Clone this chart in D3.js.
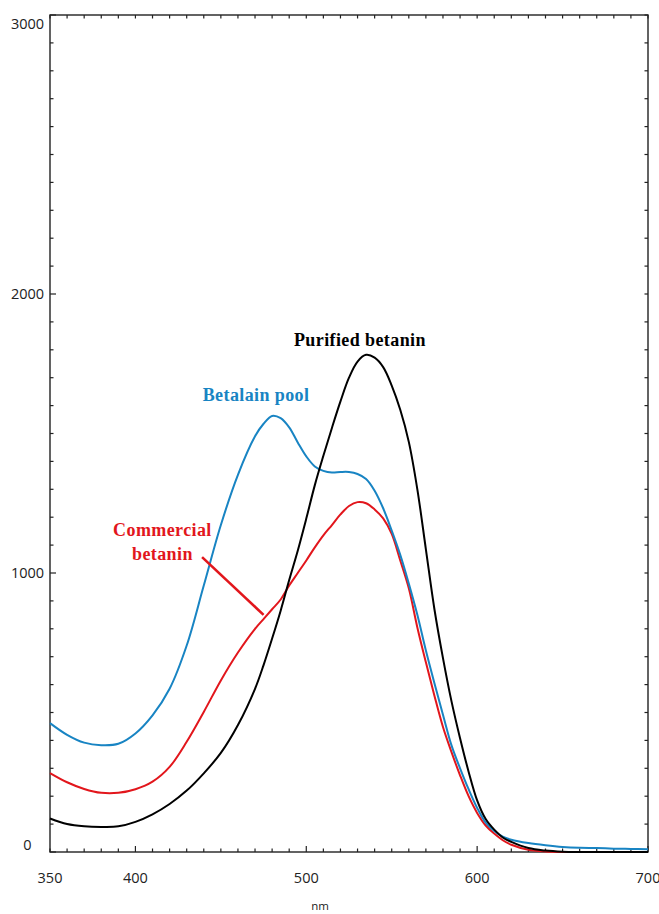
<!DOCTYPE html>
<html>
<head>
<meta charset="utf-8">
<script src="https://cdn.jsdelivr.net/npm/d3@7/dist/d3.min.js"></script>
<style>
  html, body { margin: 0; padding: 0; background: #fff; }
  svg { display: block; }
</style>
</head>
<body>
<svg id="chart" width="659" height="914"></svg>
<script>
// Absorbance-like spectra (arbitrary units) against wavelength in nm
const wavelengths = [350, 360, 370, 380, 390, 400, 410, 420, 430, 440, 450, 460, 470, 475, 480, 485, 490, 495, 500, 505, 510, 515, 520, 525, 530, 535, 540, 545, 550, 555, 560, 565, 570, 575, 580, 585, 590, 595, 600, 605, 610, 615, 620, 630, 640, 650, 660, 670, 680, 690, 700];

const purifiedBetanin = [120, 100, 92, 90, 92, 108, 135, 172, 220, 282, 355, 455, 585, 670, 765, 865, 975, 1080, 1195, 1315, 1420, 1520, 1615, 1700, 1758, 1782, 1772, 1738, 1672, 1585, 1470, 1300, 1085, 870, 695, 540, 408, 288, 185, 118, 80, 52, 36, 14, 5, 1, 0, 0, 0, 0, 0];

const betalainPool = [462, 420, 392, 383, 388, 425, 490, 585, 740, 955, 1172, 1352, 1490, 1535, 1563, 1555, 1522, 1468, 1418, 1382, 1366, 1360, 1362, 1362, 1355, 1337, 1295, 1232, 1152, 1065, 962, 850, 722, 605, 492, 382, 300, 225, 158, 105, 75, 55, 44, 32, 24, 18, 15, 14, 12, 11, 10];

const commercialBetanin = [283, 250, 226, 212, 212, 225, 252, 305, 395, 502, 615, 715, 800, 835, 870, 905, 955, 1000, 1045, 1092, 1135, 1172, 1210, 1240, 1254, 1250, 1228, 1196, 1140, 1045, 945, 805, 680, 560, 448, 358, 275, 200, 140, 95, 66, 42, 26, 8, 2, 0, 0, 0, 0, 0, 0];

const xTickLabels = [350, 400, 500, 600, 700];
const yTickLabels = [0, 1000, 2000, 3000];
const seriesNames = ["Purified betanin", "Betalain pool", "Commercial betanin"];
const seriesColors = ["#000000", "#1884c3", "#e2161c"];

const svg = d3.select("#chart");
const frame = { left: 50, right: 648, top: 15, bottom: 852 };

const x = d3.scaleLinear().domain([350, 700]).range([frame.left, frame.right]);
const y = d3.scaleLinear().domain([0, 3000]).range([frame.bottom, frame.top]);

// Frame ticks: every 10 nm along x, every 100 units along y
const minorX = d3.range(350, 701, 10);
const minorY = d3.range(0, 3001, 100);
const tickStroke = "#222";

const axes = svg.append("g").attr("stroke", tickStroke).attr("stroke-width", 1.2);
// bottom ticks (pointing up), longer at each 100 nm
axes.selectAll(".bt").data(minorX).join("line")
  .attr("x1", d => x(d)).attr("x2", d => x(d))
  .attr("y1", frame.bottom).attr("y2", d => frame.bottom - (d % 100 === 0 ? 6 : 3.5));
// top ticks (pointing down)
axes.selectAll(".tt").data(minorX).join("line")
  .attr("x1", d => x(d)).attr("x2", d => x(d))
  .attr("y1", frame.top).attr("y2", frame.top + 3.5);
// left ticks (pointing right), longer at each 1000
axes.selectAll(".lt").data(minorY).join("line")
  .attr("x1", frame.left).attr("x2", d => frame.left + (d % 1000 === 0 ? 6 : 3.5))
  .attr("y1", d => y(d)).attr("y2", d => y(d));
// right ticks (pointing left)
axes.selectAll(".rt").data(minorY).join("line")
  .attr("x1", frame.right).attr("x2", frame.right - 3.5)
  .attr("y1", d => y(d)).attr("y2", d => y(d));

// plot frame
svg.append("rect")
  .attr("x", frame.left).attr("y", frame.top)
  .attr("width", frame.right - frame.left).attr("height", frame.bottom - frame.top)
  .attr("fill", "none").attr("stroke", "#222").attr("stroke-width", 1.4);

// tick labels
const labelFont = "'Open Sans', 'Noto Sans', sans-serif";
svg.append("g").selectAll("text").data(xTickLabels).join("text")
  .attr("x", d => x(d)).attr("y", 883)
  .attr("text-anchor", "middle")
  .attr("font-family", labelFont).attr("font-size", 14.5).attr("fill", "#222")
  .text(d => d);

svg.append("g").selectAll("text").data(yTickLabels).join("text")
  .attr("x", 27.5)
  // keep the end labels inside the frame's vertical extent
  .attr("y", d => Math.min(Math.max(y(d), frame.top + 9), frame.bottom - 7) + 5)
  .attr("text-anchor", "middle")
  .attr("font-family", labelFont).attr("font-size", 14.5).attr("fill", "#222")
  .text(d => d);

svg.append("text")
  .attr("x", 320).attr("y", 910)
  .attr("text-anchor", "middle")
  .attr("font-family", labelFont).attr("font-size", 11.5).attr("fill", "#222")
  .text("nm");

// spectra
const seriesValues = [purifiedBetanin, betalainPool, commercialBetanin];
const line = d3.line()
  .x(d => x(d[0]))
  .y(d => y(d[1]))
  .curve(d3.curveCatmullRom.alpha(0.5));

const plot = svg.append("g");
// draw in order: commercial, pool, purified on top
[2, 1, 0].forEach(i => {
  plot.append("path")
    .datum(wavelengths.map((w, k) => [w, seriesValues[i][k]]))
    .attr("fill", "none")
    .attr("stroke", seriesColors[i])
    .attr("stroke-width", 2)
    .attr("stroke-linejoin", "round")
    .attr("d", line);
});

// series annotations (wavelength / value coordinates)
const serif = "'Liberation Serif', 'Times New Roman', serif";
const notes = [
  { text: "Purified betanin", nm: 531.4, v: 1815, color: seriesColors[0] },
  { text: "Betalain pool", nm: 470.6, v: 1615, color: seriesColors[1] },
  { text: "Commercial", nm: 415.8, v: 1133, color: seriesColors[2] },
  { text: "betanin", nm: 415.8, v: 1047, color: seriesColors[2] }
];
svg.append("g").selectAll("text").data(notes).join("text")
  .attr("x", d => x(d.nm)).attr("y", d => y(d.v))
  .attr("text-anchor", "middle")
  .attr("font-family", serif).attr("font-weight", "bold")
  .attr("font-size", 18).attr("letter-spacing", 0.4)
  .attr("fill", d => d.color)
  .text(d => d.text);

// leader from the label to the commercial betanin curve
svg.append("line")
  .attr("x1", x(439)).attr("y1", y(1057))
  .attr("x2", x(475)).attr("y2", y(850))
  .attr("stroke", seriesColors[2]).attr("stroke-width", 2.6);
</script>
</body>
</html>
